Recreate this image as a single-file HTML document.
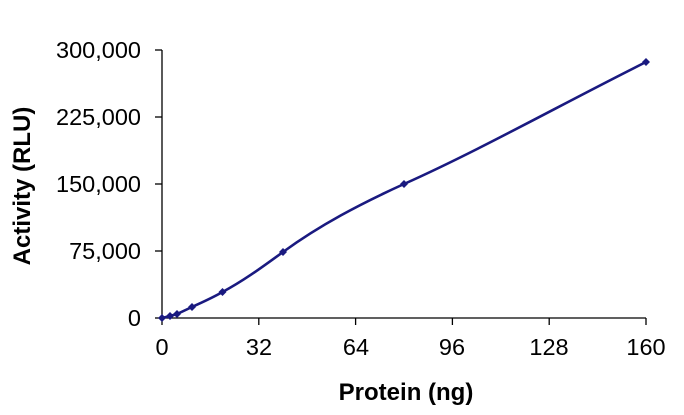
<!DOCTYPE html>
<html><head><style>body{margin:0;background:#fff}</style></head><body>
<svg width="684" height="410" xmlns="http://www.w3.org/2000/svg" font-family="Liberation Sans, Arial, sans-serif">
<g stroke="#000" stroke-width="1.3">
<line x1="162" y1="50" x2="162" y2="318"/>
<line x1="162" y1="318" x2="646" y2="318"/>
<line x1="155" y1="50" x2="162" y2="50"/>
<line x1="155" y1="117" x2="162" y2="117"/>
<line x1="155" y1="184" x2="162" y2="184"/>
<line x1="155" y1="251" x2="162" y2="251"/>
<line x1="155" y1="318" x2="162" y2="318"/>
<line x1="162" y1="318" x2="162" y2="325"/>
<line x1="258.8" y1="318" x2="258.8" y2="325"/>
<line x1="355.6" y1="318" x2="355.6" y2="325"/>
<line x1="452.4" y1="318" x2="452.4" y2="325"/>
<line x1="549.2" y1="318" x2="549.2" y2="325"/>
<line x1="646" y1="318" x2="646" y2="325"/>
</g>
<g font-size="23.5" text-anchor="end" fill="#000">
<text x="141" y="58">300,000</text>
<text x="141" y="125">225,000</text>
<text x="141" y="192">150,000</text>
<text x="141" y="259">75,000</text>
<text x="141" y="326">0</text>
</g>
<g font-size="23.5" text-anchor="middle" fill="#000">
<text x="162" y="355">0</text>
<text x="259" y="355">32</text>
<text x="356" y="355">64</text>
<text x="452" y="355">96</text>
<text x="549" y="355">128</text>
<text x="646" y="355">160</text>
</g>
<text x="406" y="400" font-size="24" font-weight="bold" text-anchor="middle">Protein (ng)</text>
<text transform="translate(30,186) rotate(-90)" font-size="24" font-weight="bold" text-anchor="middle">Activity (RLU)</text>
<path d="M162,318 L170,316 L177,314 L192,307 C205,301 212,298 222.5,292 C245,280 265,265 283,252 C320,225 360,204 404,184 C480,150 560,105 646,62" fill="none" stroke="#1a1a80" stroke-width="2.6"/>
<g fill="#1a1a80">
<path d="M162,314 l4,4 l-4,4 l-4,-4z"/>
<path d="M170,312 l4,4 l-4,4 l-4,-4z"/>
<path d="M177,310 l4,4 l-4,4 l-4,-4z"/>
<path d="M192,303 l4,4 l-4,4 l-4,-4z"/>
<path d="M222.5,288 l4,4 l-4,4 l-4,-4z"/>
<path d="M283,248 l4,4 l-4,4 l-4,-4z"/>
<path d="M404,180 l4,4 l-4,4 l-4,-4z"/>
<path d="M646,58 l4,4 l-4,4 l-4,-4z"/>
</g>
</svg>
</body></html>
